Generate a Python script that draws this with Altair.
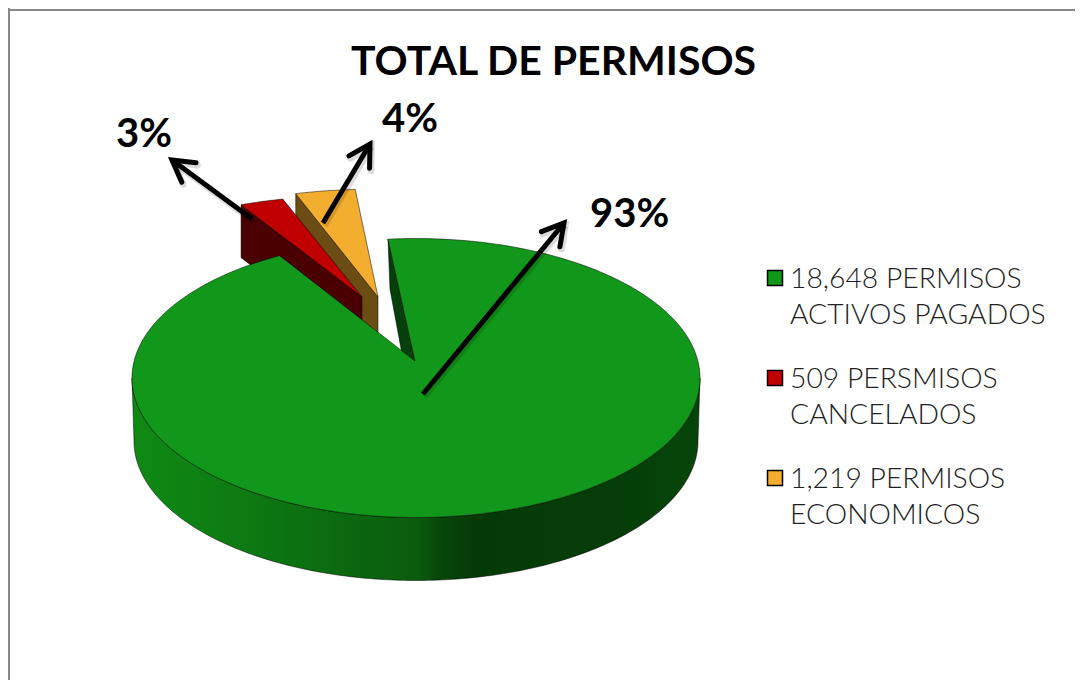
import math
import altair as alt
import pandas as pd

TITLE = "TOTAL DE PERMISOS"
CATEGORIES = ["18,648 PERMISOS|ACTIVOS PAGADOS", "509 PERSMISOS|CANCELADOS", "1,219 PERMISOS|ECONOMICOS"]
COUNTS = [18648, 509, 1219]
PERCENT_LABELS = ["93%", "3%", "4%"]
VISUAL_SHARE = [93.6, 2.5, 3.4]
TOP_COLORS = ["#119719", "#c00000", "#f4ae2f"]
SIDE_COLORS = ["#053f0a", "#4a0000", "#6b4c12"]

W, H = 1067, 672
SX = alt.Scale(domain=[8, 8 + W], nice=False, zero=False)
SY = alt.Scale(domain=[8 + H, 8], nice=False, zero=False)
X = alt.X("x:Q", axis=None, scale=SX)
Y = alt.Y("y:Q", axis=None, scale=SY)

GREEN_C, GREEN_APEX = (416, 378), (415, 361)
RX, RY, DEPTH = 284, 139.5, 63
RED_RY, ORANGE_RY, BACK_DEPTH = 102, 108, 53
RED_APEX, ORANGE_APEX = (362, 297), (378, 297)


def ring(center, rx, ry, t0, t1, n=None):
    n = n or max(2, int(abs(t1 - t0)) + 1)
    out = []
    for k in range(n + 1):
        t = math.radians(t0 + (t1 - t0) * k / n)
        out.append((center[0] + rx * math.sin(t), center[1] - ry * math.cos(t)))
    return out


def poly(points, fill, stroke="#000000", sw=0.5):
    rows = [{"x": p[0], "y": p[1], "i": k} for k, p in enumerate(list(points) + [points[0]])]
    return alt.Chart(pd.DataFrame(rows)).mark_line(
        fill=fill, stroke=stroke, strokeWidth=sw, strokeJoin="round"
    ).encode(x=X, y=Y, order=alt.Order("i:Q"))


def path(points, **style):
    rows = [{"x": p[0], "y": p[1], "i": k} for k, p in enumerate(points)]
    return alt.Chart(pd.DataFrame(rows)).mark_line(**style).encode(x=X, y=Y, order=alt.Order("i:Q"))


def down(p, d):
    return (p[0] + 0.0, p[1] + d)


deg = [s * 3.6 for s in VISUAL_SHARE]
green_start = -5.66
green_end = green_start + deg[0]
red_start = -25.2
red_end = red_start + deg[1]
orange_end = -4.6
orange_start = orange_end - deg[2]

layers = []

# orange slice
o_arc = ring(ORANGE_APEX, RX, ORANGE_RY, orange_start, orange_end)
layers.append(poly([o_arc[0], ORANGE_APEX, down(ORANGE_APEX, BACK_DEPTH), down(o_arc[0], BACK_DEPTH)], SIDE_COLORS[2]))
layers.append(poly([ORANGE_APEX] + o_arc, TOP_COLORS[2]))
# red slice
r_arc = ring(RED_APEX, RX, RED_RY, red_start, red_end)
layers.append(poly([r_arc[0], RED_APEX, down(RED_APEX, BACK_DEPTH), down(r_arc[0], BACK_DEPTH)], SIDE_COLORS[1]))
layers.append(poly([RED_APEX] + r_arc, TOP_COLORS[1]))
# green slice: gap face, outer wall, top
g_arc = ring(GREEN_C, RX, RY, green_start, green_end)
p_start = g_arc[0]
layers.append(poly([p_start, GREEN_APEX, down(GREEN_APEX, DEPTH), (p_start[0] + 2, p_start[1] + 50)], SIDE_COLORS[0]))
wall_top = ring(GREEN_C, RX, RY, 90, 270)
wall_bot = [down(p, DEPTH) for p in reversed(ring(GREEN_C, RX - 2, RY, 90, 270))]
wall_fill = alt.Gradient(
    gradient="linear", x1=0, x2=1, y1=0, y2=0,
    stops=[
        alt.GradientStop(color="#0f8a14", offset=0.0),
        alt.GradientStop(color="#0d7a12", offset=0.2),
        alt.GradientStop(color="#0a5c0e", offset=0.5),
        alt.GradientStop(color="#07480a", offset=0.54),
        alt.GradientStop(color="#053a07", offset=0.6),
        alt.GradientStop(color="#053d08", offset=0.85),
        alt.GradientStop(color="#06460a", offset=1.0),
    ],
)
layers.append(poly(wall_top + wall_bot, wall_fill))
layers.append(poly([GREEN_APEX] + g_arc, TOP_COLORS[0]))


# arrows: shaft and open head with a soft offset shadow
def arrow(tail, tip):
    dx, dy = tip[0] - tail[0], tip[1] - tail[1]
    L = math.hypot(dx, dy)
    ux, uy = dx / L, dy / L
    nx, ny = -uy, ux
    a = (tip[0] - ux * 21 + nx * 12, tip[1] - uy * 21 + ny * 12)
    b = (tip[0] - ux * 21 - nx * 12, tip[1] - uy * 21 - ny * 12)
    out = []
    for off, col, op, sw in ((2.5, "#000000", 0.14, 6.5), (0, "#000000", 1, 5)):
        o = lambda p: (p[0] + off * 0.6, p[1] + off)
        for pts in ([tail, tip], [a, tip, b]):
            out.append(path([o(p) for p in pts], color=col, opacity=op, strokeWidth=sw,
                            strokeCap="butt" if len(pts) == 2 else "round", strokeJoin="miter"))
    return out


layers += arrow((423, 394), (564, 223))
layers += arrow((252, 219), (172, 160))
layers += arrow((323, 223), (370, 144))

# percentage labels
pct = pd.DataFrame({"x": [590, 116, 382], "y": [227, 147, 132], "t": PERCENT_LABELS, "n": COUNTS})
layers.append(
    alt.Chart(pct).mark_text(font="Lato", fontWeight="bold", fontSize=40, align="left", baseline="alphabetic", color="#000000")
    .encode(x=X, y=Y, text="t:N")
)

# legend
leg = pd.DataFrame({"cat": CATEGORIES, "x": [775, 775, 775], "y": [278, 378, 478], "tx": [790, 790, 790], "ty": [288, 388, 488]})
layers.append(
    alt.Chart(leg).mark_square(size=225, opacity=1, stroke="#000000", strokeWidth=1.5)
    .encode(x=X, y=Y, fill=alt.Fill("cat:N", legend=None, scale=alt.Scale(domain=CATEGORIES, range=TOP_COLORS)))
)
layers.append(
    alt.Chart(leg).mark_text(font="Lato", fontWeight=300, fontSize=28.3, lineBreak="|", lineHeight=35.5, align="left", baseline="alphabetic", color="#222222")
    .encode(x=alt.X("tx:Q", axis=None, scale=SX), y=alt.Y("ty:Q", axis=None, scale=SY), text="cat:N")
)

# frame
frame_t = alt.Chart(pd.DataFrame({"a": [0]})).mark_rule(color="#888888", strokeWidth=2).encode(x=alt.value(0), x2=alt.value(W), y=alt.value(2))
frame_l = alt.Chart(pd.DataFrame({"a": [0]})).mark_rule(color="#888888", strokeWidth=2).encode(y=alt.value(0), y2=alt.value(H), x=alt.value(1))

chart = alt.layer(frame_t, frame_l, *layers).properties(
    width=W,
    height=H,
    padding=0,
    autosize=alt.AutoSizeParams(type="none"),
    title=alt.TitleParams(TITLE, font="Lato", fontWeight="bold", fontSize=41, color="#000000", anchor="start",
                          frame="group", dx=343, dy=109, offset=0, baseline="alphabetic"),
).configure_view(stroke=None)

chart.save("out.html", embed_options={"renderer": "svg", "actions": False})
